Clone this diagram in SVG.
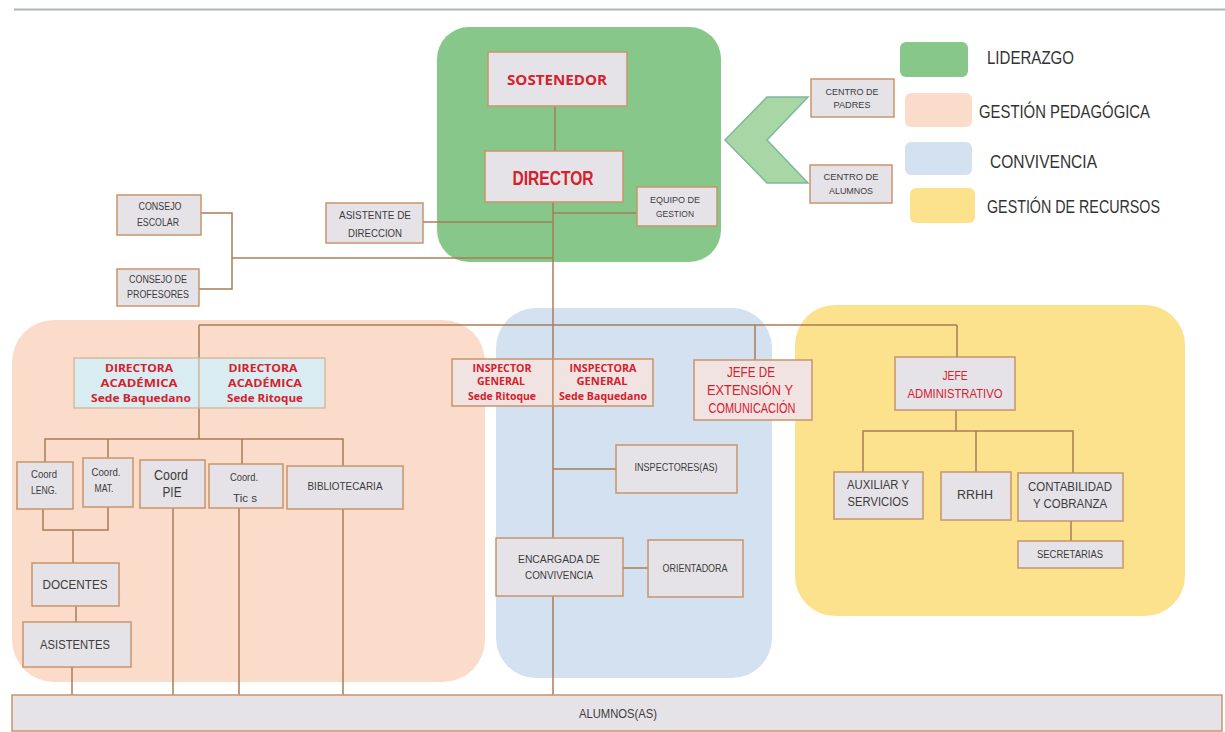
<svg xmlns="http://www.w3.org/2000/svg" width="1225" height="732" viewBox="0 0 1225 732">
<style>
.bg{fill:#ffffff}
.box{fill:#e6e3e8;stroke:#c8956b;stroke-width:1.5}
.pink{fill:#f1e3e2;stroke:#c8956b;stroke-width:1.5}
.cyan{fill:#d8ecf1;stroke:#d2b090;stroke-width:1.2}
.ln{fill:none;stroke:#a97c57;stroke-width:1.5}
.t{font-family:"Liberation Sans Narrow","Liberation Sans",Arial,sans-serif;fill:#3c3c3c;text-anchor:middle;dominant-baseline:central}
.r{font-family:"Liberation Sans Narrow","Liberation Sans",Arial,sans-serif;fill:#d3222c;text-anchor:middle;dominant-baseline:central}
.rb{font-family:"Open Sans","Liberation Sans",Arial,sans-serif;font-weight:bold;fill:#d3222c;text-anchor:middle;dominant-baseline:central}
.lg{font-family:"Liberation Sans Narrow","Liberation Sans",Arial,sans-serif;fill:#333;font-size:18px;dominant-baseline:central}
</style>
<rect class="bg" x="0" y="0" width="1225" height="732"/>
<line x1="14" y1="9.5" x2="1225" y2="9.5" stroke="#a9b9b6" stroke-width="2"/>

<g id="regions">
<rect x="437" y="27" width="284" height="235" rx="32" fill="#88c78a"/>
<rect x="12" y="320" width="473" height="362" rx="42" fill="#fbdccb"/>
<rect x="496" y="308" width="276" height="370" rx="40" fill="#d3e1f0"/>
<rect x="795" y="305" width="390" height="311" rx="40" fill="#fde28e"/>
<polygon points="725,140 767,97 808,97 767,140 808,183 767,183" fill="#a8d6a4" stroke="#7fb89a" stroke-width="1.5"/>
</g>

<g id="legend">
<rect x="900" y="42" width="68" height="35" rx="6" fill="#88c78a"/>
<text class="lg" x="987" y="58" textLength="87" lengthAdjust="spacingAndGlyphs">LIDERAZGO</text>
<rect x="905" y="93" width="67" height="34" rx="6" fill="#fbdccb"/>
<text class="lg" x="979" y="112" textLength="171" lengthAdjust="spacingAndGlyphs">GESTIÓN PEDAGÓGICA</text>
<rect x="905" y="142" width="67" height="33" rx="6" fill="#d3e1f0"/>
<text class="lg" x="990" y="162" textLength="107" lengthAdjust="spacingAndGlyphs">CONVIVENCIA</text>
<rect x="910" y="188" width="65" height="35" rx="6" fill="#fde28e"/>
<text class="lg" x="987" y="207" textLength="173" lengthAdjust="spacingAndGlyphs">GESTIÓN DE RECURSOS</text>
</g>

<g id="connectors">
<line class="ln" x1="555" y1="106" x2="555" y2="151"/>
<line class="ln" x1="553" y1="202" x2="553" y2="695"/>
<line class="ln" x1="553" y1="213" x2="637" y2="213"/>
<line class="ln" x1="423" y1="222" x2="553" y2="222"/>
<polyline class="ln" points="201,213 232,213 232,289 199,289"/>
<line class="ln" x1="232" y1="258" x2="553" y2="258"/>
<line class="ln" x1="199" y1="325" x2="957" y2="325"/>
<line class="ln" x1="199" y1="325" x2="199" y2="358"/>
<line class="ln" x1="755" y1="325" x2="755" y2="360"/>
<line class="ln" x1="957" y1="325" x2="957" y2="357"/>
<line class="ln" x1="199" y1="408" x2="199" y2="439"/>
<polyline class="ln" points="45,462 45,439 343,439 343,466"/>
<line class="ln" x1="108" y1="439" x2="108" y2="458"/>
<line class="ln" x1="242" y1="439" x2="242" y2="464"/>
<polyline class="ln" points="43,509 43,530 108,530 108,507"/>
<line class="ln" x1="73" y1="530" x2="73" y2="563"/>
<line class="ln" x1="76" y1="606" x2="76" y2="622"/>
<line class="ln" x1="72" y1="667" x2="72" y2="695"/>
<line class="ln" x1="173" y1="508" x2="173" y2="695"/>
<line class="ln" x1="239" y1="508" x2="239" y2="695"/>
<line class="ln" x1="343" y1="509" x2="343" y2="695"/>
<line class="ln" x1="553" y1="469" x2="616" y2="469"/>
<line class="ln" x1="623" y1="568" x2="648" y2="568"/>
<line class="ln" x1="956" y1="410" x2="956" y2="431"/>
<polyline class="ln" points="863,472 863,431 1073,431 1073,473"/>
<line class="ln" x1="976" y1="431" x2="976" y2="472"/>
<line class="ln" x1="1071" y1="521" x2="1071" y2="541"/>
</g>

<g id="sostenedor">
<rect class="box" x="488" y="52" width="139" height="54"/>
<text class="rb" x="557" y="79" font-size="14" textLength="100" lengthAdjust="spacingAndGlyphs">SOSTENEDOR</text>
</g>
<g id="director">
<rect class="box" x="485" y="151" width="138" height="51"/>
<text class="r" x="553" y="177" font-size="21" font-weight="bold" textLength="81" lengthAdjust="spacingAndGlyphs">DIRECTOR</text>
</g>
<g id="equipo-gestion">
<rect class="box" x="637" y="187" width="80" height="39"/>
<text class="t" x="675" y="200" font-size="9" textLength="50" lengthAdjust="spacingAndGlyphs">EQUIPO DE</text>
<text class="t" x="675" y="214" font-size="9" textLength="38" lengthAdjust="spacingAndGlyphs">GESTION</text>
</g>
<g id="asistente-direccion">
<rect class="box" x="326" y="203" width="97" height="40"/>
<text class="t" x="375" y="215" font-size="11" textLength="72" lengthAdjust="spacingAndGlyphs">ASISTENTE  DE</text>
<text class="t" x="375" y="233" font-size="11" textLength="54" lengthAdjust="spacingAndGlyphs">DIRECCION</text>
</g>
<g id="consejo-escolar">
<rect class="box" x="117" y="195" width="84" height="40"/>
<text class="t" x="160" y="206" font-size="10" textLength="43" lengthAdjust="spacingAndGlyphs">CONSEJO</text>
<text class="t" x="158" y="222" font-size="10" textLength="42" lengthAdjust="spacingAndGlyphs">ESCOLAR</text>
</g>
<g id="consejo-profesores">
<rect class="box" x="117" y="269" width="82" height="37"/>
<text class="t" x="158" y="279" font-size="10" textLength="58" lengthAdjust="spacingAndGlyphs">CONSEJO DE</text>
<text class="t" x="158" y="294" font-size="10" textLength="62" lengthAdjust="spacingAndGlyphs">PROFESORES</text>
</g>
<g id="centro-padres">
<rect class="box" x="811" y="79" width="83" height="38"/>
<text class="t" x="852" y="92" font-size="9" textLength="53" lengthAdjust="spacingAndGlyphs">CENTRO DE</text>
<text class="t" x="852" y="105" font-size="9" textLength="37" lengthAdjust="spacingAndGlyphs">PADRES</text>
</g>
<g id="centro-alumnos">
<rect class="box" x="810" y="165" width="82" height="38"/>
<text class="t" x="851" y="177" font-size="9" textLength="55" lengthAdjust="spacingAndGlyphs">CENTRO DE</text>
<text class="t" x="851" y="191" font-size="9" textLength="44" lengthAdjust="spacingAndGlyphs">ALUMNOS</text>
</g>

<g id="directora-baquedano">
<rect class="cyan" x="74" y="358" width="125" height="50"/>
<text class="rb" x="139" y="367" font-size="11" textLength="68" lengthAdjust="spacingAndGlyphs">DIRECTORA</text>
<text class="rb" x="139" y="382" font-size="11" textLength="77" lengthAdjust="spacingAndGlyphs">ACADÉMICA</text>
<text class="rb" x="141" y="397" font-size="11" textLength="100" lengthAdjust="spacingAndGlyphs">Sede Baquedano</text>
</g>
<g id="directora-ritoque">
<rect class="cyan" x="199" y="358" width="126" height="50"/>
<text class="rb" x="263" y="367" font-size="11" textLength="69" lengthAdjust="spacingAndGlyphs">DIRECTORA</text>
<text class="rb" x="265" y="382" font-size="11" textLength="74" lengthAdjust="spacingAndGlyphs">ACADÉMICA</text>
<text class="rb" x="265" y="397" font-size="11" textLength="76" lengthAdjust="spacingAndGlyphs">Sede Ritoque</text>
</g>
<g id="coord-leng">
<rect class="box" x="17" y="462" width="56" height="47"/>
<text class="t" x="44" y="474" font-size="11" textLength="26" lengthAdjust="spacingAndGlyphs">Coord</text>
<text class="t" x="44" y="490" font-size="11" textLength="26" lengthAdjust="spacingAndGlyphs">LENG.</text>
</g>
<g id="coord-mat">
<rect class="box" x="83" y="458" width="50" height="49"/>
<text class="t" x="106" y="472" font-size="11" textLength="29" lengthAdjust="spacingAndGlyphs">Coord.</text>
<text class="t" x="104" y="488" font-size="11" textLength="19" lengthAdjust="spacingAndGlyphs">MAT.</text>
</g>
<g id="coord-pie">
<rect class="box" x="140" y="460" width="65" height="48"/>
<text class="t" x="171" y="475" font-size="14" textLength="34" lengthAdjust="spacingAndGlyphs">Coord</text>
<text class="t" x="172" y="492" font-size="14" textLength="19" lengthAdjust="spacingAndGlyphs">PIE</text>
</g>
<g id="coord-tics">
<rect class="box" x="209" y="464" width="74" height="44"/>
<text class="t" x="244" y="477" font-size="11" textLength="28" lengthAdjust="spacingAndGlyphs">Coord.</text>
<text class="t" x="245" y="498" font-size="11" textLength="24" lengthAdjust="spacingAndGlyphs">Tic s</text>
</g>
<g id="bibliotecaria">
<rect class="box" x="287" y="466" width="116" height="43"/>
<text class="t" x="345" y="486" font-size="11" textLength="75" lengthAdjust="spacingAndGlyphs">BIBLIOTECARIA</text>
</g>
<g id="docentes">
<rect class="box" x="32" y="563" width="87" height="43"/>
<text class="t" x="75" y="584" font-size="13" textLength="65" lengthAdjust="spacingAndGlyphs">DOCENTES</text>
</g>
<g id="asistentes">
<rect class="box" x="23" y="622" width="108" height="45"/>
<text class="t" x="75" y="644" font-size="13" textLength="70" lengthAdjust="spacingAndGlyphs">ASISTENTES</text>
</g>

<g id="inspector-ritoque">
<rect class="pink" x="452" y="359" width="101" height="47"/>
<text class="rb" x="502" y="368" font-size="10" textLength="59" lengthAdjust="spacingAndGlyphs">INSPECTOR</text>
<text class="rb" x="501" y="381" font-size="10" textLength="48" lengthAdjust="spacingAndGlyphs">GENERAL</text>
<text class="rb" x="502" y="396" font-size="10" textLength="68" lengthAdjust="spacingAndGlyphs">Sede Ritoque</text>
</g>
<g id="inspectora-baquedano">
<rect class="pink" x="553" y="359" width="100" height="47"/>
<text class="rb" x="603" y="368" font-size="10" textLength="67" lengthAdjust="spacingAndGlyphs">INSPECTORA</text>
<text class="rb" x="602" y="381" font-size="10" textLength="51" lengthAdjust="spacingAndGlyphs">GENERAL</text>
<text class="rb" x="603" y="396" font-size="10" textLength="88" lengthAdjust="spacingAndGlyphs">Sede Baquedano</text>
</g>
<g id="jefe-extension">
<rect class="pink" x="694" y="360" width="118" height="60"/>
<text class="r" x="751" y="372" font-size="14" textLength="48" lengthAdjust="spacingAndGlyphs">JEFE DE</text>
<text class="r" x="750" y="390" font-size="14" textLength="86" lengthAdjust="spacingAndGlyphs">EXTENSIÓN Y</text>
<text class="r" x="752" y="408" font-size="14" textLength="87" lengthAdjust="spacingAndGlyphs">COMUNICACIÓN</text>
</g>
<g id="inspectores">
<rect class="box" x="616" y="445" width="121" height="48"/>
<text class="t" x="676" y="467" font-size="10" textLength="83" lengthAdjust="spacingAndGlyphs">INSPECTORES(AS)</text>
</g>
<g id="encargada-convivencia">
<rect class="box" x="496" y="538" width="127" height="58"/>
<text class="t" x="559" y="559" font-size="11" textLength="82" lengthAdjust="spacingAndGlyphs">ENCARGADA DE</text>
<text class="t" x="559" y="575" font-size="11" textLength="68" lengthAdjust="spacingAndGlyphs">CONVIVENCIA</text>
</g>
<g id="orientadora">
<rect class="box" x="648" y="540" width="95" height="57"/>
<text class="t" x="695" y="568" font-size="10" textLength="65" lengthAdjust="spacingAndGlyphs">ORIENTADORA</text>
</g>

<g id="jefe-administrativo">
<rect class="box" x="895" y="357" width="120" height="53"/>
<text class="r" x="955" y="375" font-size="13" textLength="25" lengthAdjust="spacingAndGlyphs">JEFE</text>
<text class="r" x="955" y="393" font-size="13" textLength="95" lengthAdjust="spacingAndGlyphs">ADMINISTRATIVO</text>
</g>
<g id="auxiliar-servicios">
<rect class="box" x="834" y="472" width="89" height="47"/>
<text class="t" x="878" y="485" font-size="12" textLength="62" lengthAdjust="spacingAndGlyphs">AUXILIAR Y</text>
<text class="t" x="878" y="502" font-size="12" textLength="61" lengthAdjust="spacingAndGlyphs">SERVICIOS</text>
</g>
<g id="rrhh">
<rect class="box" x="941" y="472" width="70" height="48"/>
<text class="t" x="975" y="495" font-size="12" textLength="36" lengthAdjust="spacingAndGlyphs">RRHH</text>
</g>
<g id="contabilidad">
<rect class="box" x="1018" y="473" width="105" height="48"/>
<text class="t" x="1070" y="487" font-size="12" textLength="84" lengthAdjust="spacingAndGlyphs">CONTABILIDAD</text>
<text class="t" x="1070" y="504" font-size="12" textLength="74" lengthAdjust="spacingAndGlyphs">Y COBRANZA</text>
</g>
<g id="secretarias">
<rect class="box" x="1018" y="541" width="105" height="27"/>
<text class="t" x="1070" y="554" font-size="10" textLength="66" lengthAdjust="spacingAndGlyphs">SECRETARIAS</text>
</g>

<g id="alumnos">
<rect class="box" x="12" y="695" width="1210" height="36"/>
<text class="t" x="618" y="714" font-size="12" textLength="78" lengthAdjust="spacingAndGlyphs">ALUMNOS(AS)</text>
</g>
</svg>
